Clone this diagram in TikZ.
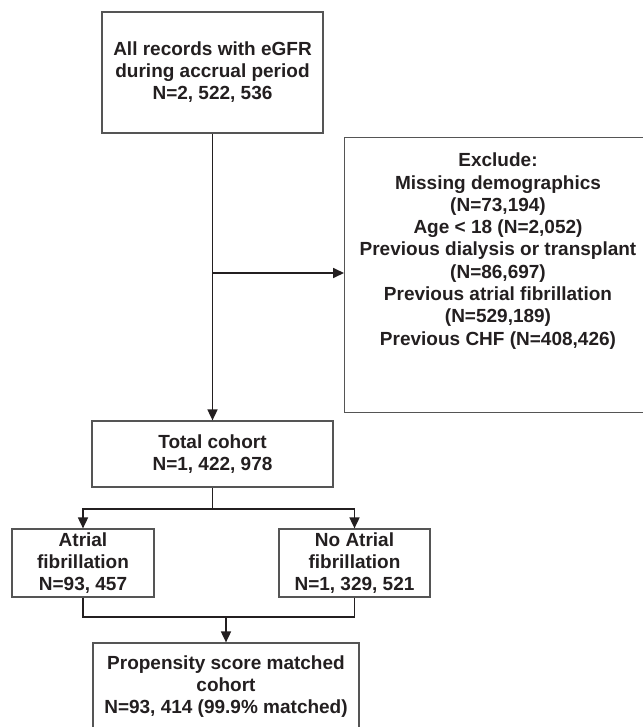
\documentclass[tikz,border=0pt]{standalone}
\usepackage{fontspec}
\setmainfont{Liberation Sans}
\usetikzlibrary{arrows.meta}
\definecolor{ink}{HTML}{231F20}
\definecolor{boxline}{HTML}{555555}
\tikzset{
  flowbox/.style={draw=boxline, line width=1.2pt, inner sep=0pt, align=center,
    text=ink, font=\bfseries\fontsize{19}{22}\selectfont},
  txt/.style={inner sep=0pt, align=center, text=ink, font=\bfseries\fontsize{19}{22.3}\selectfont},
  conn/.style={draw=ink, line width=1.7pt},
  arr/.style={conn, -{Triangle[length=11pt,width=10pt]}}
}
\begin{document}
\begin{tikzpicture}[x=1pt,y=-1pt]
\useasboundingbox (0,0) rectangle (642,727);
\node[flowbox, minimum width=221pt, minimum height=121pt] (rec) at (212.5,72.5)
  {All records with eGFR\\during accrual period\\N=2, 522, 536};
\node[flowbox, minimum width=308pt, minimum height=275pt, anchor=north west] (excl) at (344,137) {};
\node[txt] (excltext) at (498,251)
  {Exclude:\\Missing demographics\\(N=73,194)\\Age < 18 (N=2,052)\\Previous dialysis or transplant\\(N=86,697)\\Previous atrial fibrillation\\(N=529,189)\\Previous CHF (N=408,426)};
\node[flowbox, minimum width=241pt, minimum height=66pt] (tot) at (212.5,454)
  {Total cohort\\N=1, 422, 978};
\node[flowbox, minimum width=142pt, minimum height=68pt] (af) at (83,563)
  {Atrial\\fibrillation\\N=93, 457};
\node[flowbox, minimum width=151pt, minimum height=68pt] (noaf) at (354.5,563)
  {No Atrial\\fibrillation\\N=1, 329, 521};
\node[flowbox, minimum width=266pt, minimum height=88pt] (pm) at (226,687)
  {Propensity score matched\\cohort\\N=93, 414 (99.9\% matched)};
\coordinate (j1) at (212.5,273);
\coordinate (j2) at (212.5,509);
\coordinate (j3) at (226,617);
\draw[arr] (rec.south) -- (tot.north);
\draw[arr] (j1) -- (j1 -| excl.west);
\draw[conn] (tot.south) -- (j2);
\draw[arr] (j2) -| (af.north);
\draw[arr] (j2) -| (noaf.north);
\draw[conn] (af.south) |- (j3);
\draw[conn] (noaf.south) |- (j3);
\draw[arr] (j3) -- (pm.north);
\end{tikzpicture}
\end{document}
